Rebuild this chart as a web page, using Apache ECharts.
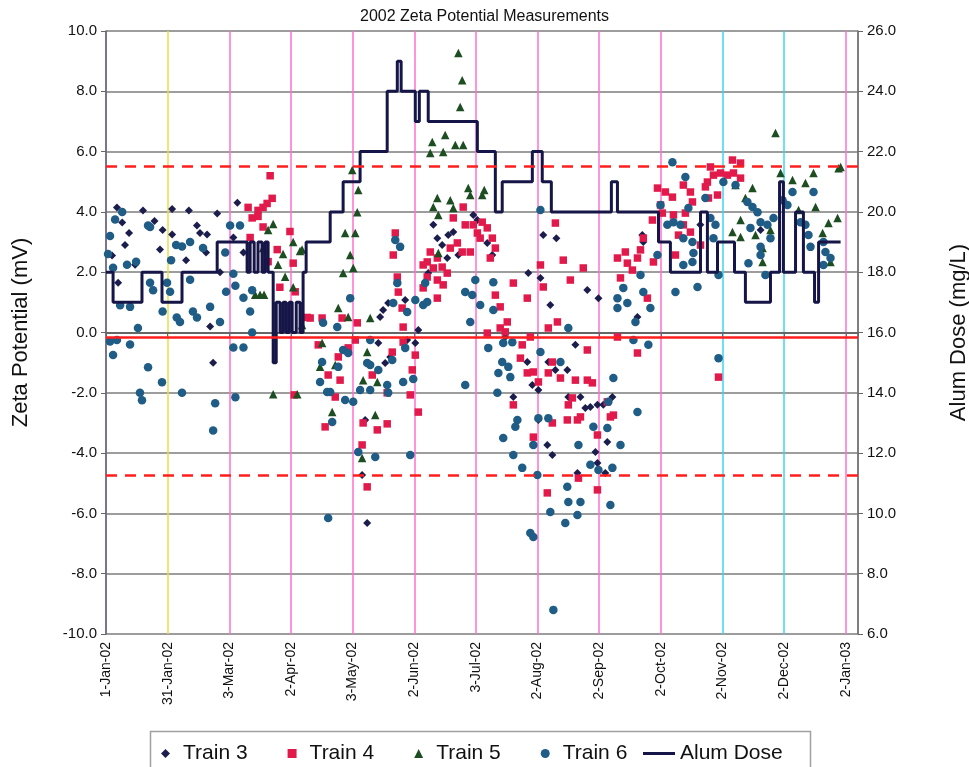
<!DOCTYPE html>
<html>
<head>
<meta charset="utf-8">
<script src="https://cdn.jsdelivr.net/npm/echarts@6/dist/echarts.min.js"></script>
<style>
html,body{margin:0;padding:0;background:#fff;}
#chart{width:969px;height:767px;}
</style>
</head>
<body>
<div id="chart"></div>
<script>
// ---- Data (x = days since 1-Jan-02, y = zeta potential mV) ----
const tickLabels = ['1-Jan-02','31-Jan-02','3-Mar-02','2-Apr-02','3-May-02','2-Jun-02','3-Jul-02','2-Aug-02','2-Sep-02','2-Oct-02','2-Nov-02','2-Dec-02','2-Jan-03'];

const train3 = [
[5.4,4.15],[18.3,4.05],[32.7,4.1],[41,4.05],[55,3.95],[65,4.3],[8,3.65],[24,3.7],[45,3.55],[46.5,3.3],[11.4,3.3],[28,3.4],[32.7,3.25],[50,3.25],[63,3.15],[9.4,2.9],[26.7,2.75],[49.5,2.65],[68,2.65],[3,2.55],[14.4,2.25],[39.6,2.4],[51.5,0.2],[53,-1.0],[6,1.65],[56.4,2.0],
[161.9,3.57],[163.9,3.13],[166.3,2.9],[169.3,3.23],[171.8,3.33],[181.7,3.9],[183.7,3.73],[174.3,2.57],[168.8,2.47],[159.4,1.97],[148,1.08],[139.6,0.98],[137.1,0.75],[135.6,0.51],[154.5,0.08],[134.7,-0.35],[138.1,-1.01],[140.6,-0.81],[149,-0.25],[153,-0.35],[128.2,-2.9],[126.7,-4.73],[129.2,-6.32],
[188.6,2.97],[191.1,2.57],[216.3,3.23],[222.8,3.13],[208.9,1.97],[214.9,1.81],[219.8,0.91],[238.1,1.41],[243.6,1.14],[265.3,3.23],[265.8,3.0],[262.9,0.51],[197.5,-0.15],[208.4,-0.98],[210.9,-1.74],[213.9,-1.91],[201.5,-2.14],[213.9,-2.9],[218.3,-3.73],[220.8,-4.06],[218.8,-0.98],[222.3,-1.24],[228.2,-1.24],[232.2,-0.41],[228.7,-2.14],[234.7,-2.14],[237.1,-2.5],[239.6,-2.47],[243.1,-2.4],[246,-2.4],[250.5,-2.14],[248,-3.63],[242.1,-3.96],[243.1,-4.33],[233.2,-4.66],[247,-4.66],
[294,3.57],[323.8,3.4]
];

const train4 = [
[70.3,4.15],[75.2,4.05],[77.7,4.15],[81.2,5.2],[82.2,4.45],[72.3,3.8],[77.7,3.5],[91,3.35],[86,1.5],[75.2,3.85],[71.3,3.15],[84.7,2.75],[92.6,2.3],[93.6,1.35],[99.5,0.5],[80.2,2.35],[79.7,4.28],[93.1,-2.07],
[143.1,3.3],[142.1,2.57],[144.1,1.84],[144.6,1.34],[146.5,0.81],[101,0.48],[106.9,0.48],[116.8,0.48],[124.3,0.32],[147,0.18],[176.7,4.16],[171.8,3.8],[177.7,3.57],[181.7,3.57],[183.7,3.3],[185.1,3.13],[173.8,2.97],[170.3,2.8],[176.2,2.67],[180.2,2.67],[160.4,2.67],[163.9,2.47],[158.9,2.34],[156.9,2.24],[161.9,2.14],[166.3,2.17],[168.8,1.97],[158.9,1.84],[163.9,1.74],[166.8,1.58],[156.9,1.48],[163.9,1.14],
[105,-0.41],[114.9,-0.81],[119.8,-0.51],[123.3,-0.25],[109.9,-1.41],[115.8,-1.58],[131.7,-1.41],[141.6,-0.65],[147,-0.32],[153,-0.75],[151.5,-1.24],[150.5,-2.07],[154.5,-2.64],[108.4,-3.13],[113.4,-2.14],[127.2,-3.0],[134.2,-3.23],[139.1,-3.03],[126.7,-3.73],[129.2,-5.12],[139.1,-2.0],
[186.1,3.66],[188.6,3.47],[191.1,3.13],[192.6,2.8],[190.1,2.47],[222.3,3.63],[214.9,2.24],[226.2,2.4],[236.1,2.14],[201.5,1.64],[216.3,1.51],[229.7,1.74],[208.4,1.14],[192.6,1.24],[195,0.85],[198.5,0.35],[195,0.15],[223.3,0.35],[218.8,0.15],[253,2.47],[256.9,2.67],[257.9,2.3],[262.9,2.47],[264.4,2.74],[265.8,3.13],[260.4,2.07],[254.5,1.81],[270.3,3.73],[272.8,4.79],[276.7,4.66],[270.8,2.34],[267.8,1.14],
[188.6,-0.02],[197.5,0.02],[205.9,-0.41],[205,-0.85],[209.9,-0.15],[208.4,-1.34],[211.4,-1.31],[213.9,-1.64],[218.8,-1.34],[220.8,-0.98],[224.8,-1.51],[201.5,-2.4],[211.4,-3.47],[220.8,-3.0],[218.3,-5.32],[228.7,-2.4],[228.2,-2.9],[230.7,-2.17],[232.2,-1.58],[238.1,-1.58],[240.6,-1.67],[234.7,-2.8],[233.2,-2.9],[238.1,-0.58],[248,-2.3],[249.5,-2.8],[251,-2.74],[243.1,-3.4],[233.7,-4.83],[243.1,-5.22],[253,-0.15],[262.9,-0.68],
[285.6,4.89],[280.2,4.49],[289.1,4.66],[290.1,4.33],[297.5,4.99],[300.5,5.22],[304,5.29],[309.9,5.72],[313.9,5.62],[310.4,5.29],[313.9,5.12],[296.5,4.83],[298,4.46],[302.5,4.56],[280.7,3.9],[286.6,3.96],[285.6,3.57],[289.1,3.33],[283.2,3.23],[294.1,2.9],[281.7,2.57],[299,5.49],[307.4,5.22],[303,-1.48],[275.2,3.96],[274.3,4.23]
];

const train5 = [
[82.7,3.6],[80.2,3.4],[92.6,3.0],[97,2.75],[87.6,2.6],[85.1,2.25],[88.6,1.85],[92.6,1.5],[73.8,1.25],[76.2,1.25],[78.2,1.25],[97,0.25],[82.7,-2.05],[94.6,-2.05],[96,2.7],[77.7,2.8],
[174.3,9.27],[176.2,8.37],[175.2,7.48],[167.8,6.55],[161.4,6.32],[160.4,5.95],[166.8,5.99],[172.8,6.22],[176.7,6.22],[124.8,4.73],[124.3,3.99],[118.3,3.3],[123.3,3.3],[120.8,2.57],[122.3,2.14],[117.3,1.97],[114.9,0.81],[119.8,0.51],[130.7,0.48],[163.9,4.46],[161.9,4.16],[164.4,3.9],[170.3,4.39],[171.8,4.13],[179.2,4.79],[180.2,4.56],[186.1,4.56],[164.4,2.64],[121.8,5.39],[187.1,4.73],
[106.9,-0.35],[105.9,-1.14],[113.4,-1.08],[129.2,-0.65],[127.2,-1.58],[134.2,-1.64],[111.9,-2.64],[133.2,-2.74],[126.7,-4.16],
[331.2,6.62],[333.7,5.29],[339.6,5.06],[350,5.29],[362.4,5.45],[363.4,5.49],[319.8,4.79],[316.3,4.46],[311.4,4.89],[313.9,3.73],[309.9,3.33],[313.9,3.17],[321.3,3.23],[324.8,2.8],[324.8,2.34],[342.6,4.06],[351,4.16],[357.4,3.63],[361.9,3.8],[354.5,3.3],[358.4,2.34],[328.7,3.4],[346,4.96]
];

const train6 = [
[4.5,3.75],[20.8,3.55],[21.8,3.5],[41.6,3.0],[61.4,3.55],[66.3,3.55],[34.7,2.9],[37.6,2.85],[48,2.8],[59,2.65],[10.4,2.25],[14.9,2.35],[32.2,2.4],[63,1.95],[3.5,2.15],[21.8,1.65],[23.3,1.4],[30.2,1.65],[31.7,1.35],[41.6,1.75],[59.4,1.35],[64,1.55],[68,1.15],[72.3,1.4],[7,0.9],[11.9,0.85],[28,0.7],[35,0.5],[36.6,0.35],[43,0.7],[45,0.5],[51.5,0.85],[56.4,0.35],[71.3,0.7],[15.8,0.15],[2,-0.3],[5.4,-0.25],[11.9,-0.4],[3.5,-0.75],[20.8,-1.15],[27.7,-1.65],[16.8,-2.0],[17.8,-2.25],[37.6,-2.0],[54,-2.35],[53,-3.25],[63,-0.5],[68,-0.5],[64,-2.15],[72.3,0.0],[8,4.0],[2,3.2],[1,2.6],
[143.1,3.07],[145.5,2.84],[144.1,1.64],[120.8,1.14],[142.1,0.98],[149,0.68],[153,1.08],[156.9,0.91],[158.9,1.01],[157.9,1.64],[182.7,1.74],[177.7,1.34],[181.2,1.24],[180.2,0.35],[107.4,0.32],[114.4,0.18],[185.1,0.91],
[117.3,-0.58],[119.8,-0.68],[106.9,-0.98],[114.9,-1.14],[105.9,-1.64],[109.4,-1.97],[110.9,-1.97],[118.3,-2.24],[122.3,-2.3],[129.2,-1.01],[130.7,-1.08],[134.7,-1.24],[130.7,-1.91],[125.7,-1.91],[139.1,-1.74],[139.6,-2.0],[147,-1.64],[152,-1.54],[141.6,-0.91],[148,-0.51],[177.7,-1.74],[111.9,-2.97],[124.8,-3.96],[133.2,-4.13],[150.5,-4.06],[109.9,-6.15],[130.7,-0.25],
[214.9,4.06],[191.6,1.67],[191.6,0.75],[228.7,0.15],[253,1.14],[255.9,1.48],[253,0.81],[257.9,0.98],[264.4,1.91],[265.8,1.34],[269.3,0.81],[272.8,2.57],[274.3,4.23],[277.7,3.57],[280.2,5.65],[261.9,0.35],
[189.1,-0.51],[196.5,-0.35],[201,-0.32],[196,-0.98],[199,-1.14],[194.1,-1.34],[200,-1.48],[193.6,-2.0],[214.9,-0.65],[224.8,-0.98],[203.5,-2.9],[202.5,-3.13],[213.9,-2.84],[218.8,-2.84],[196.5,-3.5],[211.4,-3.73],[201.5,-4.06],[205.9,-4.49],[213.4,-4.73],[233.7,-3.73],[241.1,-3.13],[248,-3.17],[248.5,-2.3],[251,-1.51],[254.5,-3.73],[239.6,-4.39],[243.6,-4.56],[250.5,-4.49],[228.2,-5.12],[228.7,-5.62],[234.7,-5.62],[219.8,-5.95],[227.2,-6.32],[233.2,-6.05],[249.5,-5.72],[209.9,-6.65],[211.4,-6.78],[221.3,-9.2],[260.9,-0.25],[268.3,-0.41],[262.9,-2.64],
[286.6,5.16],[288.1,4.13],[280.7,3.66],[284.2,3.57],[285.6,3.13],[290.1,3.0],[296.5,4.46],[305.4,4.99],[311.4,4.89],[299,3.8],[301.5,3.57],[300.5,3.13],[303,1.91],[290.6,2.64],[290.1,2.34],[285.6,2.24],[281.7,1.34],[292.6,1.51],[317.3,4.33],[319.8,4.16],[322.3,3.99],[323.8,3.66],[327.2,3.57],[330.2,3.8],[318.8,3.47],[328.7,3.13],[317.8,2.3],[323.8,2.84],[323.8,2.57],[326.2,1.91],[334.7,4.39],[337.1,4.23],[339.6,4.66],[343.6,3.66],[346,3.57],[347.5,3.23],[348.5,2.84],[354.9,3.0],[355.9,2.67],[358.4,2.47],[354.9,2.24],[350,4.66],[303,-0.85]
];

// Alum dose (mg/L): value holds from each change day until the next
const alumDays = [0,3.5,17.8,27.7,37.6,55,69.8,71.3,73.3,75.2,77.2,78.7,80.2,82.7,84.2,86.1,87.6,89.1,90.6,92.1,94.1,96,97.5,99,110.9,117.3,125.7,139.1,144.1,146,153,155,159.4,183.7,192.6,196,210.9,215.8,220.3,250,253,273.3,279.2,294.1,297.5,302.5,310.9,316.3,328.7,333.2,335.1,341.1,345,350.5,352.5,363.4];
const alumDose = [18,17,18,17,18,19,18,19,18,19,18,19,18,15,17,16,17,16,17,16,17,16,18,19,20,21,22,24,25,24,23,24,23,22,20,21,22,21,20,21,20,19,18,20,18,19,18,17,18,21,18,20,18,17,19,19];

const zeroLine = -0.15;
const upperLimit = 5.5;
const lowerLimit = -4.75;

const monthLineColors = ['#8888ff','#e6e04a','#ff70d0','#ff70d0','#ff70d0','#ff70d0','#ff70d0','#ff70d0','#ff70d0','#ff70d0','#3fd6ee','#3fd6ee','#ff70d0','#777777'];

// ---- Chart ----
const chart = echarts.init(document.getElementById('chart'), null, {renderer:'canvas'});
const FONT = 'Liberation Sans, Arial, sans-serif';
const alumData = alumDays.map((d,i)=>[d, alumDose[i]]);

const option = {
  backgroundColor:'#ffffff',
  animation:false,
  textStyle:{fontFamily:FONT, color:'#111'},
  title:{text:'2002 Zeta Potential Measurements', left:'center', top:4,
    textStyle:{fontFamily:FONT, fontSize:16, fontWeight:'normal', color:'#111'}},
  grid:{left:106, right:111, top:31, bottom:133, containLabel:false, outerBoundsMode:'none'},
  xAxis:{
    type:'value', min:0, max:372, interval:30.5,
    axisLine:{show:true, lineStyle:{color:'#666', width:2}},
    axisTick:{show:true, length:4, lineStyle:{color:'#666'}},
    axisLabel:{rotate:90, fontSize:14, color:'#111', fontFamily:FONT, margin:8,
      formatter:function(v){const i=Math.round(v/30.5); return (Math.abs(v-i*30.5)<0.01 && i<tickLabels.length)? tickLabels[i] : '';}},
    splitLine:{show:true, lineStyle:{color:monthLineColors, width:1.5}}
  },
  yAxis:[{
    type:'value', min:-10, max:10, interval:2, position:'left',
    name:'Zeta Potential (mV)', nameLocation:'middle', nameGap:74, nameRotate:90,
    nameTextStyle:{fontSize:22, color:'#111', fontFamily:FONT},
    axisLine:{show:true, lineStyle:{color:'#666', width:1.5}},
    axisTick:{show:true, length:5, lineStyle:{color:'#666'}},
    axisLabel:{fontSize:15, color:'#111', fontFamily:FONT, margin:9, formatter:v=>v.toFixed(1)},
    splitLine:{show:true, lineStyle:{color:'#7c7c7c', width:1.5}}
  },{
    type:'value', min:6, max:26, interval:2, position:'right',
    name:'Alum Dose (mg/L)', nameLocation:'middle', nameGap:90, nameRotate:90,
    nameTextStyle:{fontSize:22, color:'#111', fontFamily:FONT},
    axisLine:{show:true, lineStyle:{color:'#777', width:1.5}},
    axisTick:{show:true, length:5, lineStyle:{color:'#666'}},
    axisLabel:{fontSize:15, color:'#111', fontFamily:FONT, margin:9, formatter:v=>v.toFixed(1)},
    splitLine:{show:false}
  }],
  legend:[{
    left:156, top:738, itemWidth:9, itemHeight:9, itemGap:40,
    textStyle:{fontSize:21, color:'#111', fontFamily:FONT, padding:[0,0,0,8]},
    data:['Train 3','Train 4','Train 5','Train 6']
  },{
    left:638, top:738, itemWidth:32, itemHeight:3, itemGap:10,
    textStyle:{fontSize:21, color:'#111', fontFamily:FONT},
    data:[{name:'Alum Dose', icon:'rect'}]
  }],
  graphic:[{type:'rect', left:148, top:729, shape:{width:660, height:37},
    style:{fill:'none', stroke:'#a0a0a0', lineWidth:1.5}, silent:true}],
  series:[
    {name:'Train 3', type:'scatter', data:train3, symbol:'diamond', symbolSize:8,
      itemStyle:{color:'#1b1e4d', opacity:1}, z:3,
      markLine:{silent:true, symbol:'none', label:{show:false}, animation:false,
        data:[
          {yAxis:zeroLine, lineStyle:{color:'#ff1e1e', width:2.5, type:'solid'}},
          {yAxis:upperLimit, lineStyle:{color:'#ff1e1e', width:2.5, type:[11,8]}},
          {yAxis:lowerLimit, lineStyle:{color:'#ff1e1e', width:2.5, type:[11,8]}}
        ]}},
    {name:'Train 4', type:'scatter', data:train4, symbol:'rect', symbolSize:7.5,
      itemStyle:{color:'#e21a4c', opacity:1}, z:3},
    {name:'Train 5', type:'scatter', data:train5, symbol:'triangle', symbolSize:8.5,
      itemStyle:{color:'#1d4e22', opacity:1}, z:3},
    {name:'Train 6', type:'scatter', data:train6, symbol:'circle', symbolSize:8.5,
      itemStyle:{color:'#1f5d86', opacity:1}, z:3},
    {name:'Alum Dose', type:'line', yAxisIndex:1, data:alumData, step:'end',
      showSymbol:false, symbol:'none', lineStyle:{color:'#151548', width:3},
      itemStyle:{color:'#151548'}, z:4}
  ]
};
chart.setOption(option);
</script>
</body>
</html>
